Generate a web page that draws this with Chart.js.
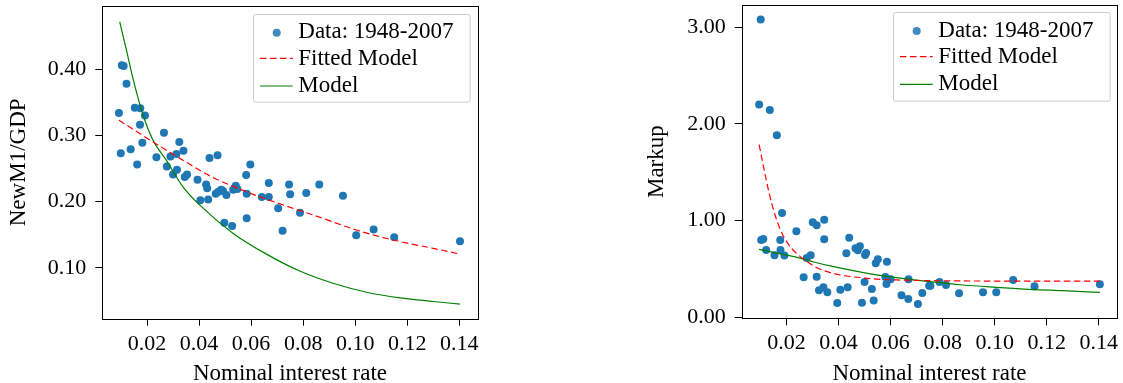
<!DOCTYPE html>
<html>
<head>
<meta charset="utf-8">
<script src="https://cdn.jsdelivr.net/npm/chart.js@4.4.0/dist/chart.umd.min.js"></script>
<style>
  body { margin: 0; background: #fff; }
  #wrap { position: relative; width: 1123px; height: 383px; }
  canvas { position: absolute; top: 0; }
</style>
</head>
<body>
<div id="wrap">
  <canvas id="m1Chart" width="560" height="383" style="left:0px"></canvas>
  <canvas id="markupChart" width="562" height="383" style="left:561px"></canvas>
</div>
<script>
// tick labels
var rateTicks = [0.02, 0.04, 0.06, 0.08, 0.10, 0.12, 0.14];
var m1Ticks = [0.10, 0.20, 0.30, 0.40];
var markupTicks = [0.00, 1.00, 2.00, 3.00];

// left panel: NewM1/GDP data 1948-2007
var m1Rate = [0.0092, 0.0099, 0.0103, 0.0110, 0.0121, 0.0137, 0.0153, 0.0162, 0.0174, 0.0173,
  0.0182, 0.0192, 0.0236, 0.0265, 0.0276, 0.0290, 0.0300, 0.0313, 0.0315, 0.0324,
  0.0340, 0.0345, 0.0354, 0.0394, 0.0405, 0.0427, 0.0431, 0.0435, 0.0440, 0.0464,
  0.0471, 0.0474, 0.0485, 0.0492, 0.0497, 0.0505, 0.0527, 0.0531, 0.0541, 0.0547,
  0.0581, 0.0583, 0.0583, 0.0597, 0.0641, 0.0668, 0.0668, 0.0704, 0.0721, 0.0746,
  0.0750, 0.0788, 0.0812, 0.0862, 0.0953, 0.1004, 0.1071, 0.1150, 0.1403];
var m1Gdp = [0.334, 0.273, 0.406, 0.405, 0.378, 0.279, 0.342, 0.256, 0.341, 0.316,
  0.289, 0.330, 0.267, 0.304, 0.253, 0.268, 0.241, 0.272, 0.248, 0.290,
  0.277, 0.237, 0.241, 0.233, 0.202, 0.226, 0.220, 0.203, 0.266, 0.212,
  0.270, 0.215, 0.218, 0.216, 0.168, 0.210, 0.163, 0.218, 0.224, 0.219,
  0.240, 0.212, 0.175, 0.256, 0.207, 0.207, 0.228, 0.190, 0.156, 0.226,
  0.211, 0.183, 0.213, 0.226, 0.209, 0.149, 0.158, 0.146, 0.140];

var m1FitRate = [0.0092, 0.0249, 0.0338, 0.0441, 0.0582, 0.0736, 0.0851, 0.1005, 0.1146, 0.1300, 0.1403];
var m1Fit = [0.323, 0.2837, 0.2626, 0.2389, 0.2148, 0.1932, 0.1781, 0.1570, 0.1419, 0.1293, 0.1207];

var m1ModelRate = [0.0095, 0.0121, 0.0146, 0.0185, 0.0223, 0.0274, 0.0338, 0.0403, 0.0531, 0.0659,
  0.0787, 0.0915, 0.1044, 0.1172, 0.1300, 0.1403];
var m1Model = [0.4715, 0.4287, 0.3859, 0.3305, 0.2928, 0.2626, 0.2223, 0.1946, 0.1519, 0.1206,
  0.0950, 0.0765, 0.0630, 0.0545, 0.0490, 0.0451];

// right panel: markup data 1948-2007
var markupRate = [0.0101, 0.0095, 0.0136, 0.0163, 0.0183, 0.0103, 0.0111, 0.0122, 0.0154, 0.0176,
  0.0177, 0.0192, 0.0238, 0.0266, 0.0278, 0.0293, 0.0301, 0.0316, 0.0316, 0.0325,
  0.0342, 0.0345, 0.0345, 0.0357, 0.0395, 0.0407, 0.0430, 0.0435, 0.0441, 0.0465,
  0.0474, 0.0482, 0.0490, 0.0500, 0.0502, 0.0506, 0.0528, 0.0535, 0.0543, 0.0551,
  0.0580, 0.0584, 0.0586, 0.0600, 0.0642, 0.0668, 0.0669, 0.0705, 0.0722, 0.0748,
  0.0753, 0.0788, 0.0813, 0.0863, 0.0955, 0.1006, 0.1071, 0.1153, 0.1404];
var markup = [3.079, 2.199, 2.144, 1.881, 1.080, 0.801, 0.811, 0.697, 0.642, 0.801,
  0.697, 0.639, 0.891, 0.414, 0.614, 0.642, 0.984, 0.953, 0.421, 0.280,
  0.311, 1.008, 0.808, 0.259, 0.148, 0.287, 0.663, 0.311, 0.822, 0.715,
  0.694, 0.735, 0.152, 0.366, 0.645, 0.666, 0.293, 0.176, 0.559, 0.601,
  0.418, 0.345, 0.576, 0.394, 0.228, 0.190, 0.394, 0.138, 0.252, 0.328,
  0.328, 0.366, 0.335, 0.249, 0.259, 0.259, 0.387, 0.321, 0.342];

var markupFitRate = [0.0095, 0.0113, 0.0132, 0.0152, 0.0177, 0.0209, 0.0241, 0.0279, 0.0317, 0.0368,
  0.0432, 0.0496, 0.0560, 0.0623, 0.0751, 0.1006, 0.1404];
var markupFit = [1.785, 1.543, 1.301, 1.094, 0.904, 0.749, 0.656, 0.577, 0.514, 0.463,
  0.428, 0.407, 0.394, 0.387, 0.380, 0.376, 0.376];

var markupModelRate = [0.0095, 0.0177, 0.0241, 0.0305, 0.0368, 0.0496, 0.0623, 0.0751, 0.0878, 0.1006, 0.1133, 0.1261, 0.1404];
var markupModel = [0.704, 0.656, 0.621, 0.573, 0.532, 0.463, 0.411, 0.369, 0.335, 0.311, 0.290, 0.276, 0.259];

var serif = '"Liberation Serif", "DejaVu Serif", serif';

function toPoints(xs, ys) {
  return xs.map(function(x, i) { return {x: x, y: ys[i]}; });
}

// axes frame (all four spines)
var framePlugin = {
  id: 'frame',
  afterDraw: function(chart) {
    var a = chart.chartArea, ctx = chart.ctx;
    ctx.save();
    ctx.strokeStyle = '#000';
    ctx.lineWidth = 1;
    ctx.strokeRect(Math.round(a.left) + 0.5, Math.round(a.top) + 0.5,
      Math.round(a.right) - Math.round(a.left), Math.round(a.bottom) - Math.round(a.top));
    ctx.restore();
  }
};

// matplotlib style legend box
var boxLegend = {
  id: 'boxLegend',
  afterDraw: function(chart, args, opts) {
    var ctx = chart.ctx;
    var x = opts.x, y = opts.y, w = opts.w, h = opts.h;
    var sampleY = [18.7, 44.3, 72];
    var textY = [24.3, 51, 77.7];
    ctx.save();
    ctx.beginPath();
    ctx.roundRect(Math.round(x) + 0.5, Math.round(y) + 0.5, w, h, 2);
    ctx.fillStyle = 'rgba(255,255,255,0.8)';
    ctx.fill();
    ctx.strokeStyle = '#cccccc';
    ctx.lineWidth = 1;
    ctx.stroke();
    ctx.font = '23px ' + serif;
    ctx.textAlign = 'left';
    ctx.textBaseline = 'alphabetic';
    chart.data.datasets.forEach(function(ds, i) {
      var cy = y + sampleY[i];
      if (ds.showLine) {
        ctx.beginPath();
        ctx.strokeStyle = ds.borderColor;
        ctx.lineWidth = ds.borderWidth;
        ctx.setLineDash(ds.borderDash || []);
        ctx.moveTo(x + 6.7, cy);
        ctx.lineTo(x + 39.4, cy);
        ctx.stroke();
        ctx.setLineDash([]);
      } else {
        ctx.beginPath();
        ctx.fillStyle = ds.legendColor;
        ctx.arc(x + 23.4, cy, 4, 0, Math.PI * 2);
        ctx.fill();
      }
      ctx.fillStyle = '#000';
      ctx.fillText(ds.label, x + 45, y + textY[i]);
    });
    ctx.restore();
  }
};

function buildChart(id, cfg) {
  var area = cfg.area;
  return new Chart(document.getElementById(id), {
    type: 'scatter',
    data: {
      datasets: [
        {
          label: 'Data: 1948-2007',
          data: toPoints(cfg.rate, cfg.values),
          pointRadius: 4,
          pointHoverRadius: 4,
          pointBackgroundColor: '#1f77b4',
          pointBorderWidth: 0,
          legendColor: 'rgba(31,119,180,0.85)',
          order: 1
        },
        {
          label: 'Fitted Model',
          data: toPoints(cfg.fitRate, cfg.fit),
          showLine: true,
          borderColor: '#ff0000',
          borderWidth: 1.2,
          borderDash: [6.5, 3.5],
          pointRadius: 0,
          cubicInterpolationMode: 'monotone',
          order: 0
        },
        {
          label: 'Model',
          data: toPoints(cfg.modelRate, cfg.model),
          showLine: true,
          borderColor: '#008000',
          borderWidth: 1.2,
          pointRadius: 0,
          cubicInterpolationMode: 'monotone',
          order: 0
        }
      ]
    },
    options: {
      responsive: false,
      animation: false,
      devicePixelRatio: 1,
      layout: { padding: { left: 0, right: cfg.width - area.right, top: area.top, bottom: 0 } },
      plugins: {
        legend: { display: false },
        tooltip: { enabled: false },
        boxLegend: cfg.legend
      },
      scales: {
        x: {
          type: 'linear',
          min: 0.0028,
          max: 0.1471,
          afterBuildTicks: function(s) { s.ticks = rateTicks.map(function(v) { return {value: v}; }); },
          afterFit: function(s) { s.height = 383 - area.bottom; s.paddingLeft = 0; s.paddingRight = 0; },
          grid: { drawOnChartArea: false, drawTicks: true, tickLength: 7, color: '#000', lineWidth: 1 },
          border: { display: false },
          ticks: {
            color: '#000', padding: 5, maxRotation: 0, autoSkip: false,
            font: { family: serif, size: 22 },
            callback: function(v) { return v.toFixed(2); }
          },
          title: {
            display: true, text: 'Nominal interest rate', color: '#000',
            font: { family: serif, size: 23, lineHeight: 0.8 },
            padding: { top: 0, bottom: 0 }
          }
        },
        y: {
          type: 'linear',
          min: cfg.yMin,
          max: cfg.yMax,
          afterBuildTicks: function(s) { s.ticks = cfg.yTicks.map(function(v) { return {value: v}; }); },
          afterFit: function(s) { s.width = area.left; s.paddingTop = 0; s.paddingBottom = 0; },
          grid: { drawOnChartArea: false, drawTicks: true, tickLength: 7, color: '#000', lineWidth: 1 },
          border: { display: false },
          ticks: {
            color: '#000', padding: 9, autoSkip: false,
            font: { family: serif, size: 22 },
            callback: function(v) { return v.toFixed(2); }
          },
          title: {
            display: true, text: cfg.yTitle, color: '#000',
            font: { family: serif, size: 23, lineHeight: 1 },
            padding: { top: cfg.yTitlePad, bottom: 0 }
          }
        }
      }
    },
    plugins: [framePlugin, boxLegend]
  });
}

buildChart('m1Chart', {
  width: 560,
  area: { left: 102.3, right: 477.7, top: 6, bottom: 318.7 },
  rate: m1Rate, values: m1Gdp,
  fitRate: m1FitRate, fit: m1Fit,
  modelRate: m1ModelRate, model: m1Model,
  yMin: 0.023, yMax: 0.4956, yTicks: m1Ticks,
  yTitle: 'NewM1/GDP', yTitlePad: 7.5,
  legend: { x: 253.3, y: 14, w: 216.7, h: 87.7 }
});

buildChart('markupChart', {
  width: 562,
  area: { left: 180.7, right: 556.3, top: 5, bottom: 318.3 },
  rate: markupRate, values: markup,
  fitRate: markupFitRate, fit: markupFit,
  modelRate: markupModelRate, model: markupModel,
  yMin: -0.009, yMax: 3.228, yTicks: markupTicks,
  yTitle: 'Markup', yTitlePad: 84.2,
  legend: { x: 332.3, y: 12.3, w: 216.7, h: 88.7 }
});
</script>
</body>
</html>
